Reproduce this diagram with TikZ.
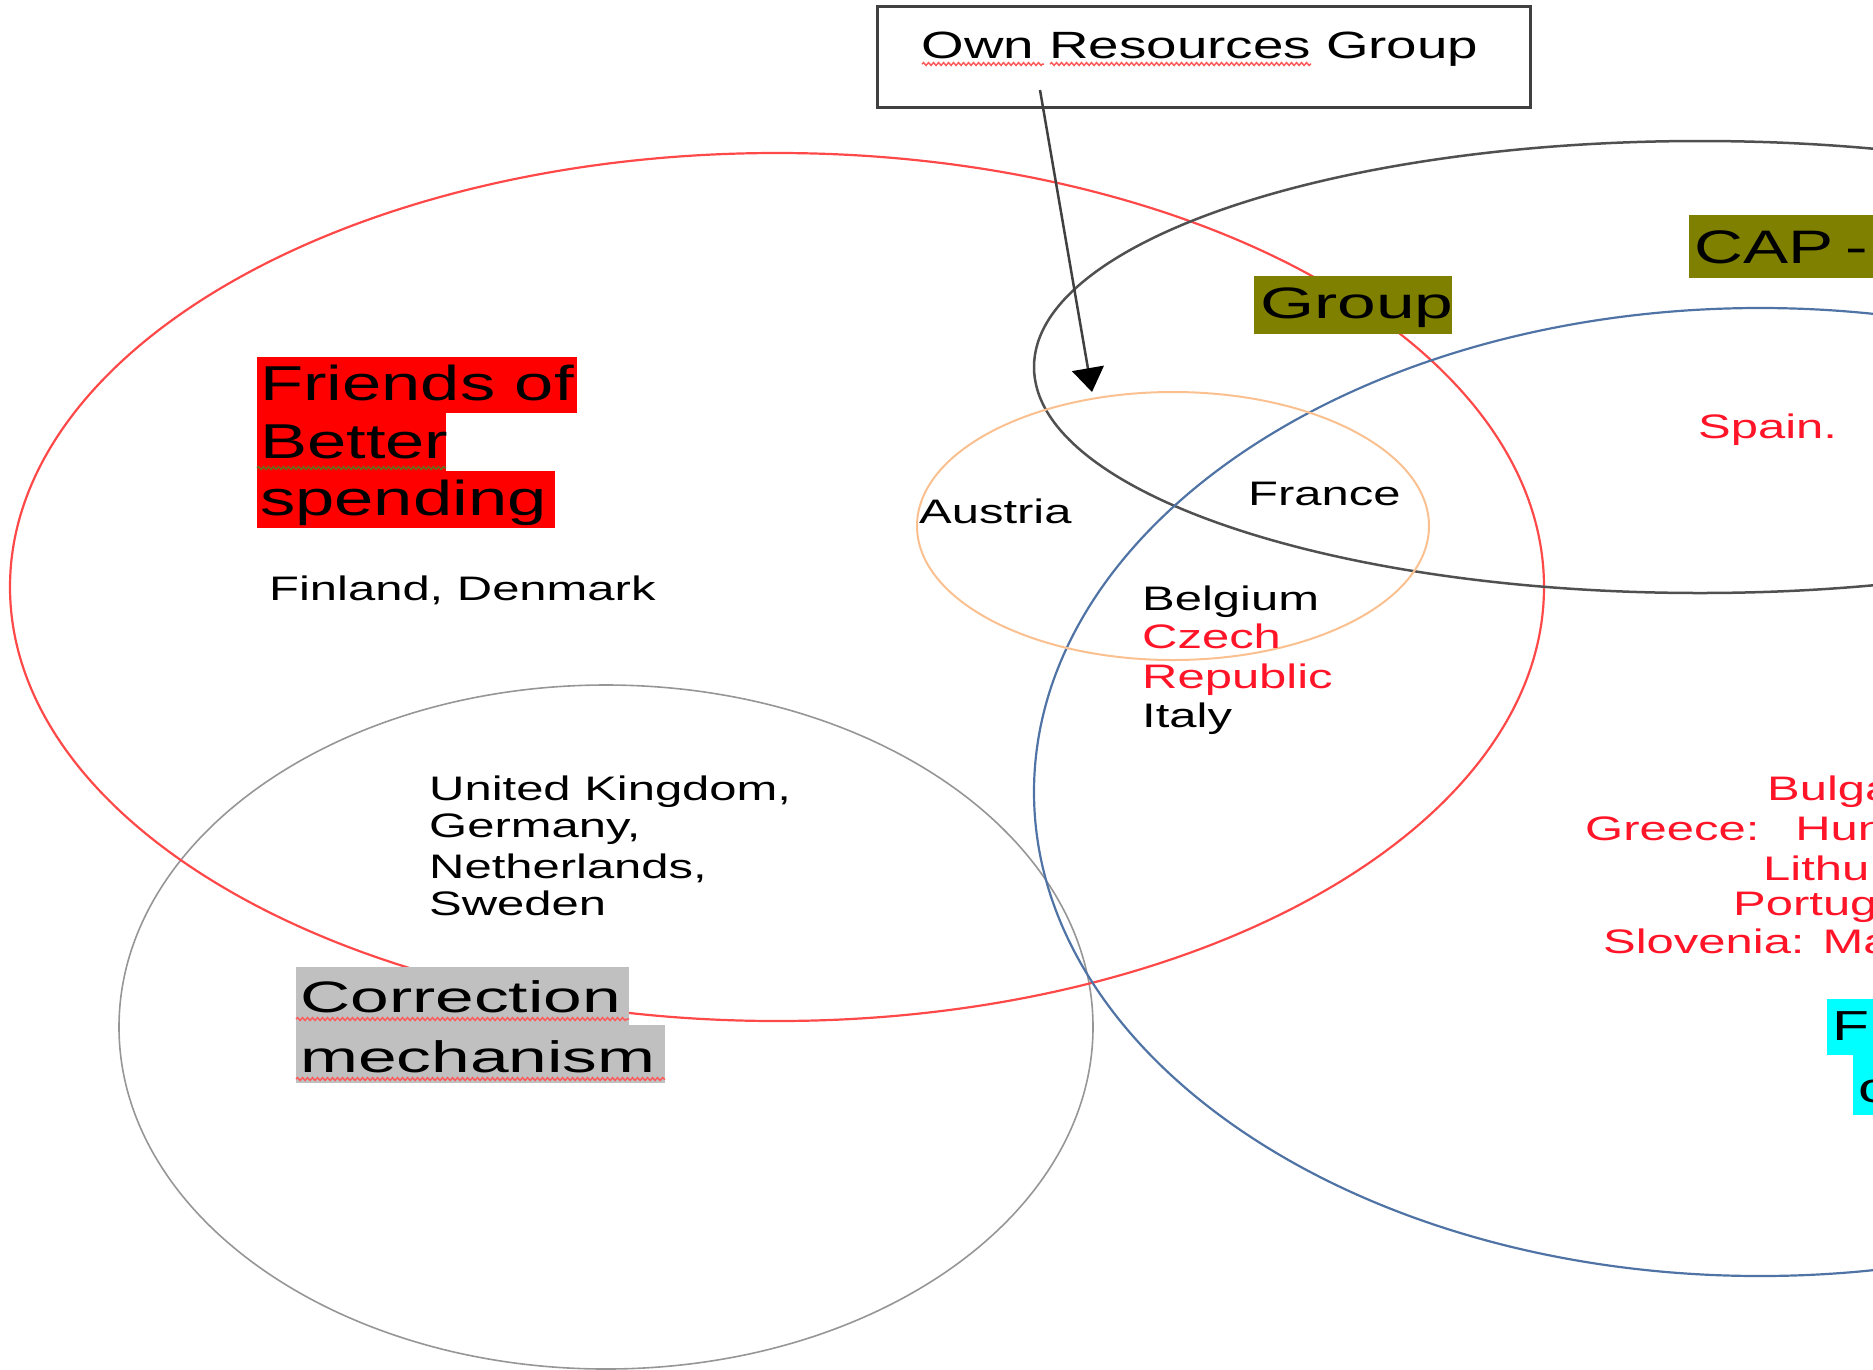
\documentclass[tikz,border=0pt]{standalone}
\usepackage{fontspec}
\setmainfont{Liberation Sans}[FakeStretch=1.44]
\newfontfamily\widefont{Liberation Sans}[FakeStretch=1.58]
\usetikzlibrary{arrows.meta,decorations.pathmorphing}
\definecolor{ellred}{RGB}{255,72,72}
\definecolor{elldark}{RGB}{80,80,80}
\definecolor{ellblue}{RGB}{80,115,165}
\definecolor{ellgray}{RGB}{150,150,150}
\definecolor{ellorange}{RGB}{250,192,143}
\definecolor{olivehl}{RGB}{128,128,0}
\definecolor{grayhl}{RGB}{192,192,192}
\definecolor{cyanhl}{RGB}{0,255,255}
\definecolor{txtred}{RGB}{255,20,40}
\definecolor{spellred}{RGB}{255,90,90}
\definecolor{spellgreen}{RGB}{100,110,30}
\definecolor{boxline}{RGB}{64,64,64}
\begin{document}
\begin{tikzpicture}[x=1pt,y=-1pt,
  lbl/.style={inner sep=0pt, anchor=base west},
  sm/.style={lbl, font=\fontsize{34}{40}\selectfont},
  smred/.style={sm, text=txtred},
  big/.style={lbl, font=\fontsize{49}{56}\selectfont},
  wide/.style={lbl, font=\widefont\fontsize{44}{50}\selectfont},
  spell/.style={decorate, decoration={snake, amplitude=1.4pt, segment length=5pt}, line width=1.5pt, spellred},
  ring/.style={line width=2.2pt}]
\useasboundingbox (0,0) rectangle (1873,1369);
\clip (0,0) rectangle (1873,1369);

% ellipses
\draw[ring, ellgray, line width=1.6pt] (606,1027) ellipse [x radius=487pt, y radius=342pt];
\draw[ring, ellred] (777,587) ellipse [x radius=767pt, y radius=434pt];
\draw[ring, elldark, line width=2.5pt] (1700,367) ellipse [x radius=666pt, y radius=226pt];
\draw[ring, ellblue] (1760,792) ellipse [x radius=726pt, y radius=484pt];
\draw[ring, ellorange, line width=2pt] (1173,526) ellipse [x radius=256pt, y radius=134pt];

% Own Resources box
\node[draw=boxline, line width=3pt, fill=white, minimum width=653pt, minimum height=101pt, inner sep=0pt, anchor=north west] (ownbox) at (876,5) {};
\node[lbl, anchor=base, font=\fontsize{38}{44}\selectfont] (owntext) at (1200,58) {Own Resources Group};
\draw[spell] (922,64) -- (1044,64);
\draw[spell] (1050,64) -- (1311,64);

\coordinate (arrowstart) at (1040,90);
\coordinate (arrowtip) at (1092,392);
\draw[line width=2.5pt, boxline, -{Triangle[length=24pt,width=32pt,color=black]}] (arrowstart) -- (arrowtip);

% highlights
\fill[red] (257,357) rectangle (577,413);
\fill[red] (257,413) rectangle (446,471);
\fill[red] (257,471) rectangle (555,528);
\fill[olivehl] (1254,276) rectangle (1452,334);
\fill[olivehl] (1689,215) rectangle (1880,278);
\fill[grayhl] (296,967) rectangle (629,1025);
\fill[grayhl] (296,1025) rectangle (665,1083);
\fill[cyanhl] (1827,999) rectangle (1880,1055);
\fill[cyanhl] (1853,1055) rectangle (1880,1115);

% texts
\node[big] (friends1) at (260,400) {Friends of};
\node[big] (friends2) at (260,458) {Better};
\node[big] (friends3) at (260,515) {spending};
\draw[spell, spellgreen] (257,468) -- (446,468);
\node[sm] (finland) at (269,600) {Finland, Denmark};

\node[wide] (group) at (1260,318) {Group};
\node[lbl, font=\fontsize{47}{54}\selectfont] (cap) at (1694,263) {CAP\hspace{12pt}-};

\node[sm] (austria) at (919,523) {Austria};
\node[sm] (france) at (1248,505) {France};
\node[sm] (belgium) at (1142,610) {Belgium};
\node[smred] (czech) at (1142,648) {Czech};
\node[smred] (republic) at (1142,688) {Republic};
\node[sm] (italy) at (1142,727) {Italy};
\node[smred] (spain) at (1698,438) {Spain.};

\node[sm] (uk) at (429,800) {United Kingdom,};
\node[sm] (germany) at (429,837) {Germany,};
\node[sm] (netherlands) at (429,878) {Netherlands,};
\node[sm] (sweden) at (429,915) {Sweden};

\node[wide] (correction) at (300,1012) {Correction};
\node[wide] (mechanism) at (300,1072) {mechanism};
\draw[spell] (296,1019) -- (629,1019);
\draw[spell] (296,1079) -- (665,1079);

\node[smred] (bulga) at (1767,800) {Bulga};
\node[smred] (greece) at (1585,840) {Greece:\hspace{36pt}Hun};
\node[smred] (lithu) at (1763,880) {Lithu};
\node[smred] (portug) at (1733,915) {Portug};
\node[smred] (slovenia) at (1603,953) {Slovenia: Ma};

\node[lbl, font=\fontsize{42}{48}\selectfont] (cyanf) at (1832,1040) {F};
\node[lbl, font=\fontsize{42}{48}\selectfont] (cyanc) at (1858,1102) {c};
\end{tikzpicture}
\end{document}
